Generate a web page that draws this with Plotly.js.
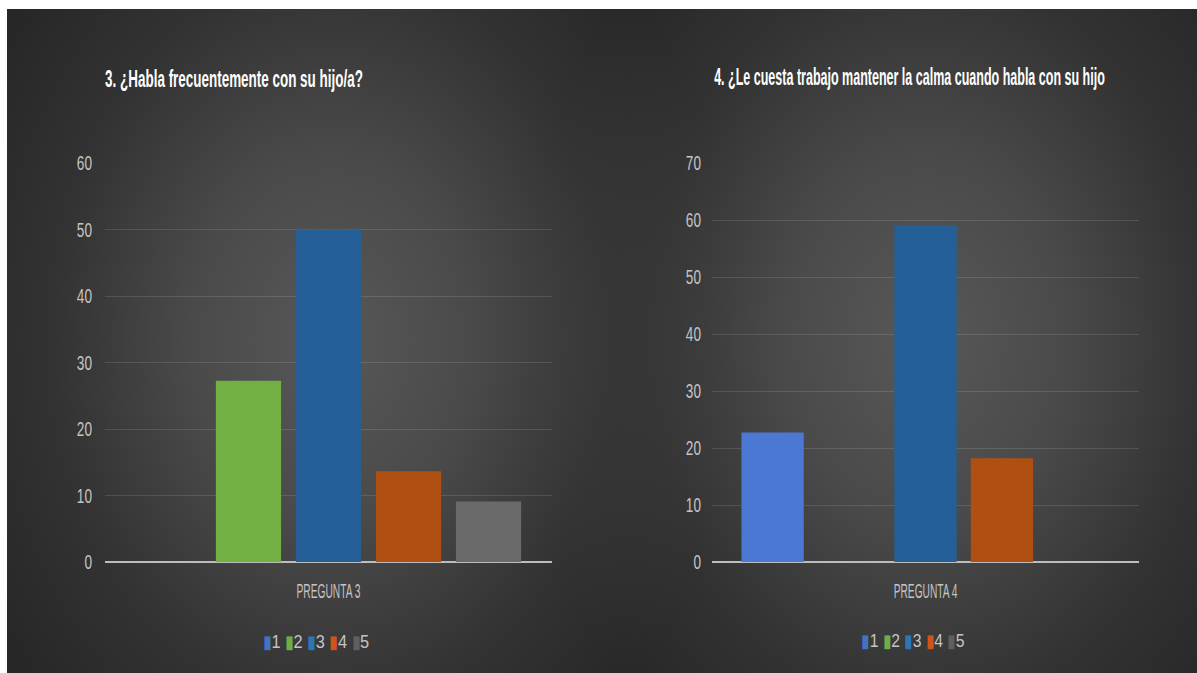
<!DOCTYPE html>
<html>
<head>
<meta charset="utf-8">
<script src="https://cdn.plot.ly/plotly-3.0.1.min.js"></script>
<style>
  html, body { margin:0; padding:0; background:#ffffff; }
  #wrap { position:relative; width:1197px; height:673px; overflow:hidden; background:#ffffff; }
  #bg { position:absolute; left:7px; top:9px; width:1190px; height:664px;
    background:
      radial-gradient(ellipse 400px 520px at 325px 330px, rgba(88,88,88,1) 0%, rgba(80,80,80,0.85) 35%, rgba(62,62,62,0.5) 70%, rgba(39,39,39,0) 100%),
      radial-gradient(ellipse 400px 520px at 918px 330px, rgba(88,88,88,1) 0%, rgba(80,80,80,0.85) 35%, rgba(62,62,62,0.5) 70%, rgba(39,39,39,0) 100%),
      #272727; }
  #chart { position:absolute; left:0; top:0; width:1197px; height:673px; }
</style>
</head>
<body>
<div id="wrap">
  <div id="bg"></div>
  <div id="chart"></div>
</div>
<script>
// ---- data ----
var seriesNames = ['1', '2', '3', '4', '5'];
var seriesColors = ['#4a78d2', '#72b043', '#255f97', '#b04f12', '#6a6a6a'];
var legendColors = ['#4472c4', '#70ad47', '#2e75b6', '#d0541a', '#5f5f5f'];
var categories3 = ['PREGUNTA 3'];
var categories4 = ['PREGUNTA 4'];
var pregunta3Values = [null, 27.27, 50, 13.64, 9.09];
var pregunta4Values = [22.73, null, 59.09, 18.18, null];
var title3 = '3. ¿Habla frecuentemente con su hijo/a?';
var title4 = '4. ¿Le cuesta trabajo mantener la calma cuando habla con su hijo';
var yTicks3 = [0, 10, 20, 30, 40, 50, 60];
var yTicks4 = [0, 10, 20, 30, 40, 50, 60, 70];

var FONT = '"Liberation Sans", Arial, sans-serif';
var traces = [];
seriesNames.forEach(function (name, i) {
  traces.push({
    type: 'bar', name: name, x: categories3, y: [pregunta3Values[i]],
    xaxis: 'x', yaxis: 'y', marker: { color: seriesColors[i] }, showlegend: false, hoverinfo: 'none'
  });
});
seriesNames.forEach(function (name, i) {
  traces.push({
    type: 'bar', name: name, x: categories4, y: [pregunta4Values[i]],
    xaxis: 'x2', yaxis: 'y2', marker: { color: seriesColors[i] }, showlegend: false, hoverinfo: 'none'
  });
});

function legendText() {
  return seriesNames.map(function (n, i) {
    return '<span style="color:' + legendColors[i] + '">▮</span>' + n;
  }).join(' ');
}

var yBottom = (673 - 562) / 673, yTop = (673 - 163) / 673;
var gridColor = 'rgba(255,255,255,0.12)';
var tickColor = '#c4c4c4';

function yax(range, ticks, anchor, standoff) {
  return {
    domain: [yBottom, yTop], range: range, anchor: anchor, tickvals: ticks, ticktext: ticks.map(String),
    showgrid: true, gridcolor: gridColor, gridwidth: 1, zeroline: true, zerolinecolor: '#bdbdbd',
    zerolinewidth: 2, ticks: '', ticklabelstandoff: standoff,
    tickfont: { family: FONT, size: 20, color: tickColor }, fixedrange: true
  };
}
function xax(domain, anchor) {
  return {
    domain: domain, anchor: anchor, type: 'category', showgrid: false, zeroline: false, showline: false,
    ticks: '', ticklabelstandoff: 14, tickfont: { family: FONT, size: 21, color: tickColor }, fixedrange: true
  };
}

var layout = {
  width: 1197, height: 673,
  margin: { l: 0, r: 0, t: 0, b: 0 },
  paper_bgcolor: 'rgba(0,0,0,0)', plot_bgcolor: 'rgba(0,0,0,0)',
  barmode: 'group', bargap: 0.105, bargroupgap: 0.185,
  showlegend: false,
  xaxis: xax([105 / 1197, 552 / 1197], 'y'),
  yaxis: yax([0, 60], yTicks3, 'x', 12),
  xaxis2: xax([712 / 1197, 1139 / 1197], 'y2'),
  yaxis2: yax([0, 70], yTicks4, 'x2', 10),
  annotations: [
    { text: '<b>' + title3 + '</b>', xref: 'paper', yref: 'paper', x: 103 / 1197, y: 1 - 78 / 673,
      xanchor: 'left', yanchor: 'middle', showarrow: false, font: { family: FONT, size: 24, color: '#ffffff' } },
    { text: '<b>' + title4 + '</b>', xref: 'paper', yref: 'paper', x: 712 / 1197, y: 1 - 76 / 673,
      xanchor: 'left', yanchor: 'middle', showarrow: false, font: { family: FONT, size: 24, color: '#ffffff' } },
    { text: legendText(), xref: 'paper', yref: 'paper', x: 316 / 1197, y: (673 - 642) / 673,
      xanchor: 'center', yanchor: 'middle', showarrow: false, font: { family: FONT, size: 18, color: tickColor } },
    { text: legendText(), xref: 'paper', yref: 'paper', x: 913 / 1197, y: (673 - 641) / 673,
      xanchor: 'center', yanchor: 'middle', showarrow: false, font: { family: FONT, size: 18, color: tickColor } }
  ]
};

// Reference text is set in a narrow face; compress glyphs horizontally around a pivot.
function squeeze(el, scale, pivot) {
  var bb = el.getBBox();
  if (!bb.width) return;
  var px = pivot === 'left' ? bb.x : (pivot === 'right' ? bb.x + bb.width : bb.x + bb.width / 2);
  var t = el.getAttribute('transform') || '';
  el.setAttribute('transform', t + ' translate(' + px + ',0) scale(' + scale + ',1) translate(' + (-px) + ',0)');
}
function squeezeTo(el, targetW, pivot) {
  var bb = el.getBBox();
  if (!bb.width) return;
  squeeze(el, targetW / bb.width, pivot);
}

Plotly.newPlot('chart', traces, layout, { staticPlot: true, displayModeBar: false }).then(function (gd) {
  var ann = gd.querySelectorAll('.annotation-text');
  var targets = [[258, 'left'], [391, 'left'], [109, 'center'], [105, 'center']];
  ann.forEach(function (el, i) { if (targets[i]) squeezeTo(el, targets[i][0], targets[i][1]); });
  gd.querySelectorAll('.ytick text, .y2tick text').forEach(function (el) { squeeze(el, 0.68, 'right'); });
  gd.querySelectorAll('.xtick text, .x2tick text').forEach(function (el) { squeezeTo(el, 64, 'center'); });
});
</script>
</body>
</html>
